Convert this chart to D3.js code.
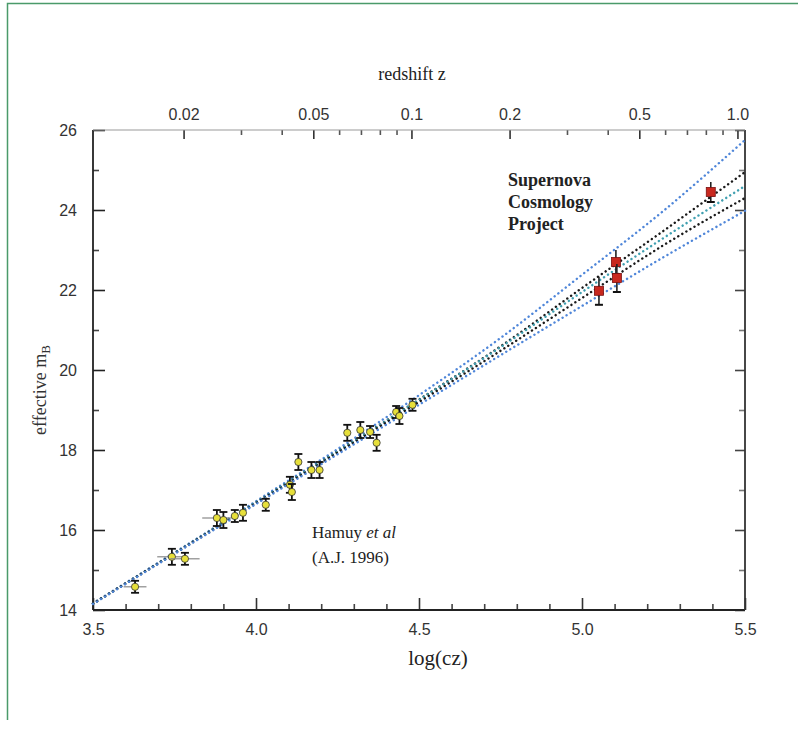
<!DOCTYPE html>
<html><head><meta charset="utf-8">
<script src="https://cdn.jsdelivr.net/npm/d3@7"></script>
<style>body{margin:0;background:#fff}</style>
</head><body>
<svg id="c" width="798" height="739"></svg>
<script>
// ---- data ----
const curveLogCz = [3.5, 4.0, 4.5, 4.75, 5.0, 5.25, 5.5];
const curve1 = [14.17, 16.72, 19.37, 20.80, 22.38, 23.98, 25.75]; // blue
const curve2 = [14.16, 16.69, 19.26, 20.59, 22.05, 23.48, 24.95]; // black
const curve3 = [14.16, 16.69, 19.25, 20.57, 21.95, 23.30, 24.60]; // teal-blue
const curve4 = [14.16, 16.67, 19.20, 20.48, 21.80, 23.12, 24.30]; // black
const curve5 = [14.15, 16.65, 19.13, 20.37, 21.60, 22.82, 23.98]; // blue
const curveColors = ["#4f86d9", "#1a1a1a", "#3f9fb0", "#1a1a1a", "#4f86d9"];

const hamuyLogCz = [3.629, 3.742, 3.782, 3.880, 3.900, 3.935, 3.960, 4.030, 4.104, 4.110, 4.130, 4.170, 4.195, 4.280, 4.320, 4.350, 4.370, 4.430, 4.440, 4.480];
const hamuyMag   = [14.58, 15.33, 15.28, 16.30, 16.25, 16.35, 16.43, 16.63, 17.13, 16.95, 17.70, 17.50, 17.50, 18.43, 18.50, 18.45, 18.18, 18.95, 18.85, 19.13];
const hamuyErr   = [0.15, 0.2, 0.15, 0.2, 0.2, 0.15, 0.2, 0.15, 0.2, 0.2, 0.2, 0.2, 0.2, 0.2, 0.2, 0.15, 0.2, 0.15, 0.2, 0.15];
const hamuyXErr  = [0.035, 0.045, 0.045, 0.045, 0, 0, 0, 0, 0, 0, 0, 0, 0, 0, 0, 0, 0, 0, 0, 0];

const scpLogCz = [5.052, 5.104, 5.107, 5.395];
const scpMag   = [21.98, 22.70, 22.30, 24.45];
const scpErr   = [0.35, 0.3, 0.35, 0.25];

const yTicksMajor = [14, 16, 18, 20, 22, 24, 26];
const yTicksMinor = [15, 17, 19, 21, 23, 25];
const xTicksMajor = [3.5, 4.0, 4.5, 5.0, 5.5];
const xTicksMinor = [3.6, 3.7, 3.8, 3.9, 4.1, 4.2, 4.3, 4.4, 4.6, 4.7, 4.8, 4.9, 5.1, 5.2, 5.3, 5.4];
const zTicksMajor = [0.02, 0.05, 0.1, 0.2, 0.5, 1.0];
const zTickLabels = ["0.02", "0.05", "0.1", "0.2", "0.5", "1.0"];
const zTicksMinor = [0.03, 0.04, 0.06, 0.07, 0.08, 0.09, 0.3, 0.4, 0.6, 0.7, 0.8, 0.9];
const C_KMS = 299792.458;

// ---- layout ----
const L = 93, R = 745, T = 130, B = 610;
const svg = d3.select("#c");
const x = d3.scaleLinear().domain([3.5, 5.5]).range([L, R]);
const y = d3.scaleLinear().domain([14, 26]).range([B, T]);
const z = d3.scaleLog().domain([Math.pow(10, 3.5) / C_KMS, Math.pow(10, 5.5) / C_KMS]).range([L, R]);

// green frame
svg.append("path").attr("d", "M7.5,720 V3.5 H798").attr("fill", "none").attr("stroke", "#4a9a6a").attr("stroke-width", 1.5);

const sans = "Liberation Sans, Arial, sans-serif";
const serif = "Liberation Serif, Times New Roman, serif";

function styleAxis(g, color) {
  g.select(".domain").remove();
  g.selectAll("line").attr("stroke", color).attr("stroke-width", 1.6);
  g.selectAll("text").attr("font-family", sans).attr("font-size", 16).attr("fill", "#333");
}

// left axis
svg.append("g").attr("transform", `translate(${L},0)`)
  .call(d3.axisLeft(y).tickValues(yTicksMajor).tickSize(-12).tickPadding(16).tickFormat(d3.format("d")))
  .call(g => styleAxis(g, "#222"));
svg.append("g").attr("transform", `translate(${L},0)`)
  .call(d3.axisLeft(y).tickValues(yTicksMinor).tickSize(-6).tickFormat(""))
  .call(g => styleAxis(g, "#444"));
// right axis
svg.append("g").attr("transform", `translate(${R},0)`)
  .call(d3.axisRight(y).tickValues(yTicksMajor).tickSize(-10).tickFormat(""))
  .call(g => styleAxis(g, "#444"));
svg.append("g").attr("transform", `translate(${R},0)`)
  .call(d3.axisRight(y).tickValues(yTicksMinor).tickSize(-6).tickFormat(""))
  .call(g => styleAxis(g, "#777"));
// bottom axis
svg.append("g").attr("transform", `translate(0,${B})`)
  .call(d3.axisBottom(x).tickValues(xTicksMajor).tickSize(-12).tickPadding(14).tickFormat(d3.format(".1f")))
  .call(g => styleAxis(g, "#333"));
svg.append("g").attr("transform", `translate(0,${B})`)
  .call(d3.axisBottom(x).tickValues(xTicksMinor).tickSize(-6).tickFormat(""))
  .call(g => styleAxis(g, "#444"));
// top axis (redshift)
svg.append("g").attr("transform", `translate(0,${T})`)
  .call(d3.axisTop(z).tickValues(zTicksMajor).tickSize(-9).tickPadding(10).tickFormat((d, i) => zTickLabels[i]))
  .call(g => styleAxis(g, "#333"));
svg.append("g").attr("transform", `translate(0,${T})`)
  .call(d3.axisTop(z).tickValues(zTicksMinor).tickSize(-5).tickFormat(""))
  .call(g => styleAxis(g, "#555"));

// frame lines
svg.append("line").attr("x1", L).attr("x2", L).attr("y1", T).attr("y2", B).attr("stroke", "#222").attr("stroke-width", 1.8);
svg.append("line").attr("x1", L).attr("x2", R).attr("y1", B).attr("y2", B).attr("stroke", "#222").attr("stroke-width", 1.8);
svg.append("line").attr("x1", R).attr("x2", R).attr("y1", T).attr("y2", B).attr("stroke", "#333").attr("stroke-width", 1.8);
svg.append("line").attr("x1", L).attr("x2", R).attr("y1", T).attr("y2", T).attr("stroke", "#999").attr("stroke-width", 1);

// theory curves
const curves = [curve1, curve2, curve3, curve4, curve5];
const line = d3.line().x(d => x(d[0])).y(d => y(d[1])).curve(d3.curveMonotoneX);
curves.forEach((c, i) => {
  svg.append("path")
    .attr("d", line(curveLogCz.map((v, j) => [v, c[j]])))
    .attr("fill", "none").attr("stroke", curveColors[i])
    .attr("stroke-width", 2.4).attr("stroke-linecap", "round")
    .attr("stroke-dasharray", "0.1,4.6");
});

// Hamuy points
const hg = svg.append("g");
hamuyLogCz.forEach((lx, i) => {
  const cx = x(lx), cy = y(hamuyMag[i]);
  if (hamuyXErr[i] > 0) {
    hg.append("line").attr("x1", x(lx - hamuyXErr[i])).attr("x2", x(lx + hamuyXErr[i]))
      .attr("y1", cy).attr("y2", cy).attr("stroke", "#888").attr("stroke-width", 1.2);
  }
  const y1 = y(hamuyMag[i] + hamuyErr[i]), y2 = y(hamuyMag[i] - hamuyErr[i]);
  hg.append("line").attr("x1", cx).attr("x2", cx).attr("y1", y1).attr("y2", y2).attr("stroke", "#111").attr("stroke-width", 1.8);
  hg.append("line").attr("x1", cx - 4).attr("x2", cx + 4).attr("y1", y1).attr("y2", y1).attr("stroke", "#111").attr("stroke-width", 1.8);
  hg.append("line").attr("x1", cx - 4).attr("x2", cx + 4).attr("y1", y2).attr("y2", y2).attr("stroke", "#111").attr("stroke-width", 1.8);
  hg.append("circle").attr("cx", cx).attr("cy", cy).attr("r", 3.6).attr("fill", "#e6df3a").attr("stroke", "#333").attr("stroke-width", 0.8);
});

// SCP points
const sg = svg.append("g");
scpLogCz.forEach((lx, i) => {
  const cx = x(lx), cy = y(scpMag[i]);
  const y1 = y(scpMag[i] + scpErr[i]), y2 = y(scpMag[i] - scpErr[i]);
  sg.append("line").attr("x1", cx).attr("x2", cx).attr("y1", y1).attr("y2", y2).attr("stroke", "#222").attr("stroke-width", 1.6);
  sg.append("line").attr("x1", cx - 4).attr("x2", cx + 4).attr("y1", y2).attr("y2", y2).attr("stroke", "#111").attr("stroke-width", 2);
  sg.append("rect").attr("x", cx - 4.5).attr("y", cy - 4.5).attr("width", 9).attr("height", 9)
    .attr("fill", "#c8281e").attr("stroke", "#7a1010").attr("stroke-width", 0.8);
});

// labels
svg.append("text").attr("x", 412).attr("y", 80).attr("text-anchor", "middle")
  .attr("font-family", serif).attr("font-size", 18).attr("fill", "#222").text("redshift  z");
svg.append("text").attr("x", 438).attr("y", 665).attr("text-anchor", "middle")
  .attr("font-family", serif).attr("font-size", 21).attr("fill", "#222").text("log(cz)");
const yl = svg.append("text").attr("transform", "translate(46,390) rotate(-90)").attr("text-anchor", "middle")
  .attr("font-family", serif).attr("font-size", 18).attr("fill", "#333");
yl.append("tspan").text("effective m");
yl.append("tspan").attr("font-size", 13).attr("dy", 4).text("B");

const scp = svg.append("text").attr("font-family", serif).attr("font-size", 18).attr("font-weight", "bold").attr("fill", "#222");
["Supernova", "Cosmology", "Project"].forEach((t, i) => scp.append("tspan").attr("x", 508).attr("y", 186 + i * 22).text(t));

const ham = svg.append("text").attr("font-family", serif).attr("font-size", 17).attr("fill", "#222");
ham.append("tspan").attr("x", 312).attr("y", 538).text("Hamuy ");
ham.append("tspan").attr("font-style", "italic").text("et al");
svg.append("text").attr("x", 312).attr("y", 563).attr("font-family", serif).attr("font-size", 17).attr("fill", "#222").text("(A.J. 1996)");
</script>
</body></html>
